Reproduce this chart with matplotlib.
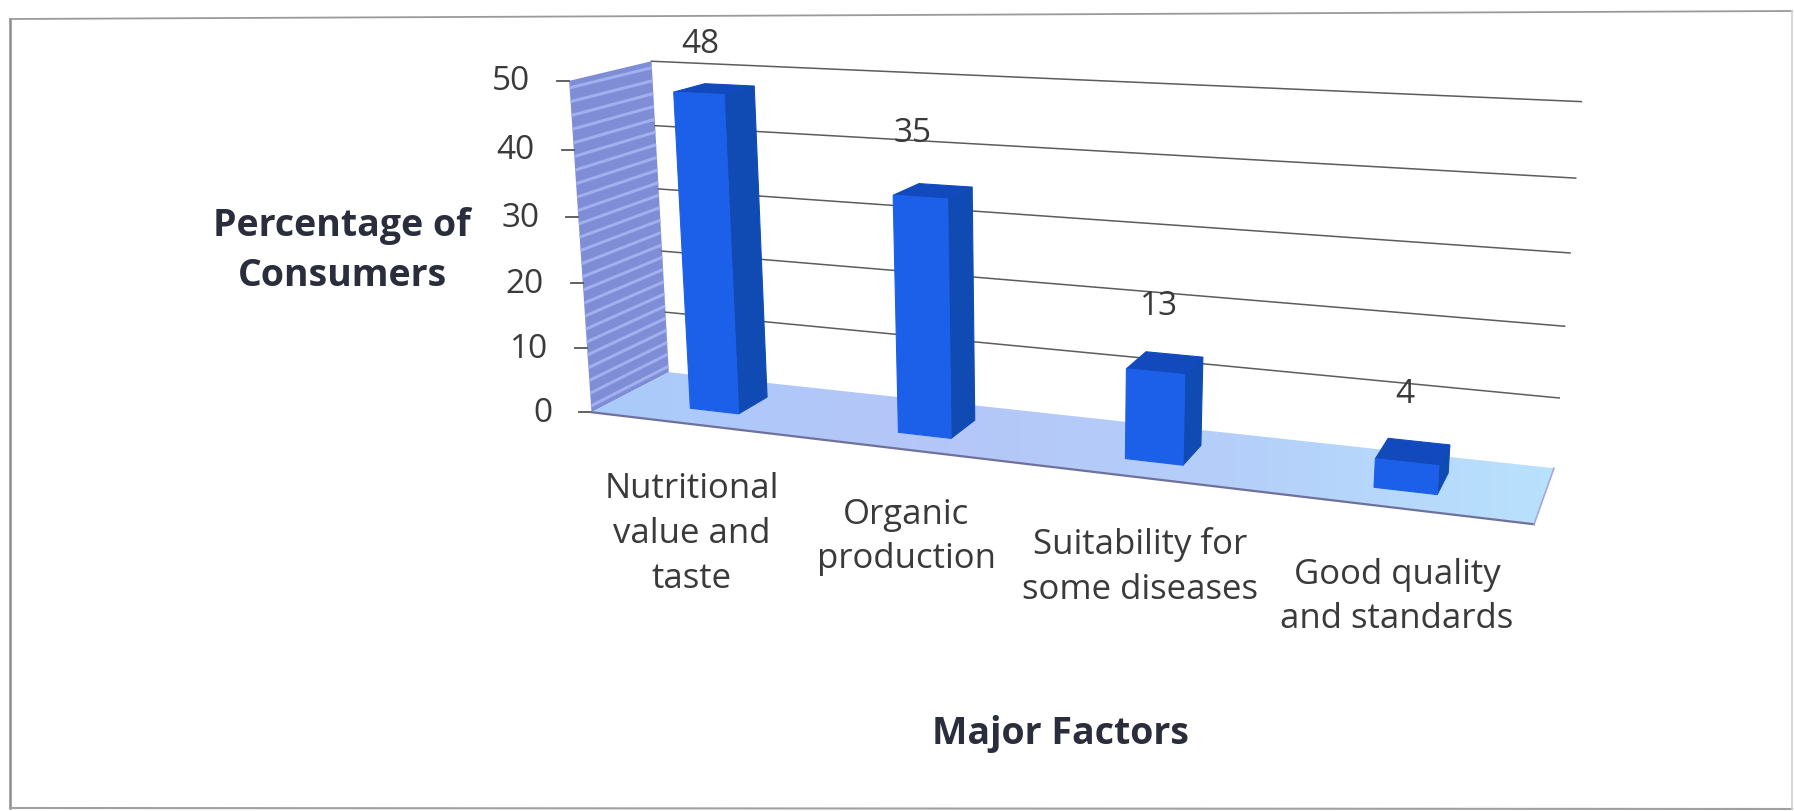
import numpy as np
import matplotlib
matplotlib.use('Agg')
import matplotlib.pyplot as plt
from matplotlib.colors import LinearSegmentedColormap
from matplotlib.patches import Polygon

categories = ['Nutritional\nvalue and\ntaste', 'Organic\nproduction',
              'Suitability for\nsome diseases', 'Good quality\nand standards']
values = [48, 35, 13, 4]
y_ticks = [0, 10, 20, 30, 40, 50]
y_max = 50.
y_title = 'Percentage of\nConsumers'
x_title = 'Major Factors'

plt.rcParams['font.family'] = ['Open Sans', 'DejaVu Sans']
W, H = 1794, 811
bar_w = 0.06
d0, d1 = 0.3, 0.7
txt = '#3a3a3a'

# camera fit: (x along categories, value/ymax, depth) -> picture pixels
calib = [
    (0, 0, 0, 592, 413), (0, 1, 0, 570, 80), (0, 0, 1, 668, 372),
    (0, 1, 1, 652, 62), (1, 1, 1, 1582, 103), (1, 0, 1, 1554, 467),
    (1, 0, 0, 1533, 526),
    (.095, 0, .3, 690, 409), (.345, 0, .3, 897, 433),
    (.595, 0, .3, 1125, 454), (.845, 0, .3, 1374, 486),
    (.095, .96, .3, 673, 92), (.345, .7, .3, 892, 193),
    (.595, .26, .3, 1125, 370), (.845, .08, .3, 1374, 461),
    (.155, 0, .3, 740, 415), (.405, 0, .3, 952, 438),
    (.655, 0, .3, 1185, 466), (.905, 0, .3, 1439, 494),
]
A = []
for x, y, z, u, v in calib:
    A.append([x, y, z, 1, 0, 0, 0, 0, -u * x, -u * y, -u * z, -u])
    A.append([0, 0, 0, 0, x, y, z, 1, -v * x, -v * y, -v * z, -v])
P = np.linalg.svd(np.array(A, float))[2][-1].reshape(3, 4)


def proj(x, val, d):
    p = P @ np.array([x, val / y_max, d, 1.])
    return p[0] / p[2], p[1] / p[2]


def face(pts, **kw):
    ax.add_patch(Polygon([proj(*p) for p in pts], closed=True, **kw))


fig = plt.figure(figsize=(W / 100, H / 100), dpi=100)
ax = fig.add_axes([0, 0, 1, 1])
ax.set_xlim(0, W)
ax.set_ylim(H, 0)
ax.axis('off')

# outer frame
ax.plot([10, 10], [19, 808], color='#8c8c8c', lw=1.8)
ax.plot([10, 1792], [19, 11], color='#9a9a9a', lw=1.3)
ax.plot([10, 1792], [808, 809], color='#a0a0a0', lw=1.5)
ax.plot([1792, 1792], [11, 809], color='#d0d0d0', lw=1.2)

# side wall with stripes
face([(0, 0, 0), (0, y_max, 0), (0, y_max, 1), (0, 0, 1)],
     fc='#7f8dd6', ec='none', zorder=1)
for v in np.arange(1, y_max, 2.):
    (x0, y0), (x1, y1) = proj(0, v, 0), proj(0, v, 1)
    ax.plot([x0, x1], [y0, y1], color='#a0afee', lw=2.2, zorder=1.5,
            solid_capstyle='butt')

# floor
floor = Polygon([proj(0, 0, 0), proj(1, 0, 0), proj(1, 0, 1), proj(0, 0, 1)],
                closed=True, fc='none', ec='none', transform=ax.transData)
ax.add_patch(floor)
cmap = LinearSegmentedColormap.from_list(
    'floor', ['#a9ccfb', '#b5c6f8', '#b4cffa', '#b9e2fd'])
im = ax.imshow(np.linspace(0, 1, 256)[None, :], extent=(590, 1560, 530, 360),
               aspect='auto', cmap=cmap, zorder=1)
im.set_clip_path(floor)
ax.set_xlim(0, W)
ax.set_ylim(H, 0)

# gridlines and ticks
for v in y_ticks:
    (x0, y0), (x1, y1) = proj(0, v, 1), proj(1, v, 1)
    if v > 0:
        ax.plot([x0, x1], [y0, y1], color='#5c5c5c', lw=1.1, zorder=2)
    xf, yf = proj(0, v, 0)
    ax.plot([xf - 12, xf], [yf, yf], color='#555555', lw=1.3, zorder=2)
    ax.text(xf - 39, yf + 1, str(v), ha='right', va='center', fontsize=24,
            color=txt)
(x0, y0), (x1, y1) = proj(0, 0, 0), proj(1, 0, 0)
ax.plot([x0, x1], [y0, y1], color='#70709c', lw=1.6, zorder=2)
(x0, y0), (x1, y1) = proj(1, 0, 0), proj(1, 0, 1)
ax.plot([x0, x1], [y0, y1], color='#a6a6dc', lw=1.2, zorder=2)

# bars
label_off = [(-14, -45), (-20, -58), (-6, -56), (-8, -57)]
for i, val in enumerate(values):
    c = (i + .5) / len(values)
    l, r = c - bar_w / 2, c + bar_w / 2
    face([(r, 0, d0), (r, val, d0), (r, val, d1), (r, 0, d1)],
         fc='#104bb4', ec='#104bb4', lw=0.8, zorder=3)
    face([(l, val, d0), (r, val, d0), (r, val, d1), (l, val, d1)],
         fc='#1249bd', ec='#1249bd', lw=0.8, zorder=3)
    face([(l, 0, d0), (r, 0, d0), (r, val, d0), (l, val, d0)],
         fc='#1c60ea', ec='#1c60ea', lw=0.8, zorder=4)
    tx, ty = proj(c, val, (d0 + d1) / 2)
    ax.text(tx + label_off[i][0], ty + label_off[i][1], str(val), ha='center',
            va='center', fontsize=24, color=txt, zorder=5)

# category labels
label_xy = [(692, 534), (906, 537), (1140, 567), (1397, 597)]
for lab, (x, y) in zip(categories, label_xy):
    ax.text(x, y, lab, ha='center', va='center', fontsize=25, color=txt,
            linespacing=1.42)

ax.text(342, 251, y_title, ha='center', va='center', fontsize=27,
        fontweight='bold', color='#2a2d3c', linespacing=1.42)
ax.text(1060, 734, x_title, ha='center', va='center', fontsize=27,
        fontweight='bold', color='#2a2d3c')

fig.savefig('out.png', dpi=100)
